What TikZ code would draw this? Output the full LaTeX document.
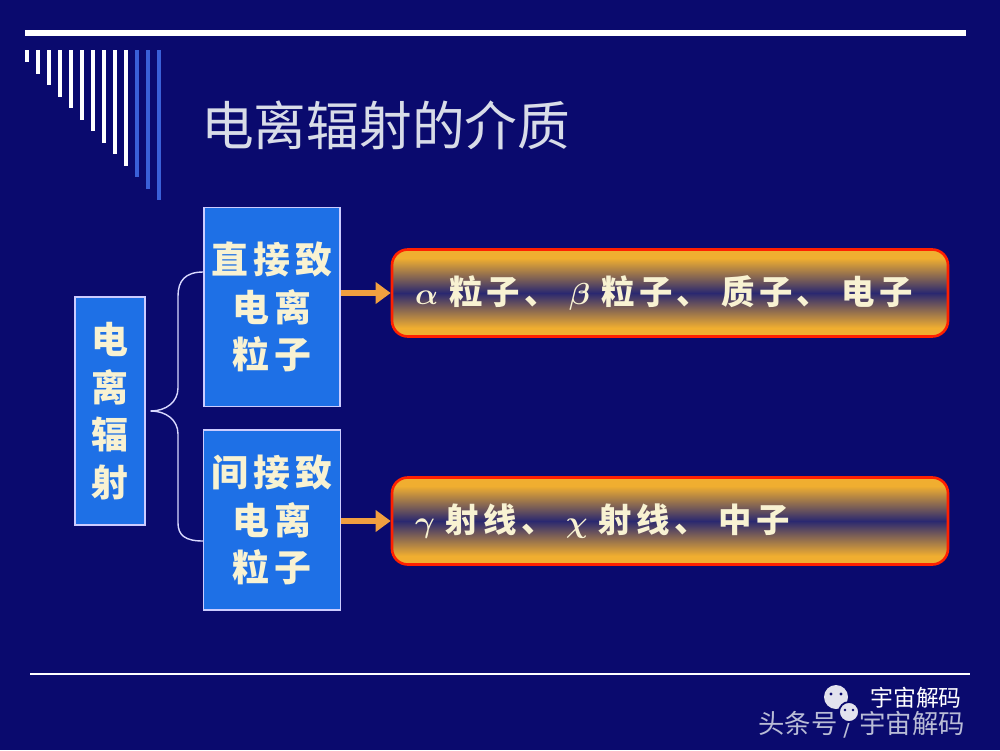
\documentclass[tikz,border=0pt]{standalone}
\usepackage{bm}
\usepackage{fontspec}
\newfontfamily\cjk{Noto Sans CJK SC}
\newfontfamily\cjkwide[LetterSpace=14]{Noto Sans CJK SC}
\newfontfamily\cjkbar[LetterSpace=13]{Noto Sans CJK SC}
\usetikzlibrary{arrows.meta,calc,positioning}
\definecolor{slidebg}{HTML}{0A0A6E}
\definecolor{boxblue}{HTML}{1E70E6}
\definecolor{barorange}{HTML}{F0AE30}
\definecolor{barnavy}{HTML}{2A2870}
\definecolor{arroworange}{HTML}{F0A040}
\definecolor{cream}{HTML}{F8F2D2}
\definecolor{stripeblue}{HTML}{3A60D8}
\definecolor{titlegray}{HTML}{D8DCE8}
\pgfdeclareverticalshading{barshade}{100bp}{color(0bp)=(barorange); color(30bp)=(barorange); color(50bp)=(barnavy); color(70bp)=(barorange); color(100bp)=(barorange)}
\tikzset{
  kind/.style={draw=blue!20!white, line width=0.8pt, fill=boxblue, text=cream,
    font=\cjkwide\bfseries\fontsize{21}{27}\selectfont, align=center, inner sep=0pt},
  medium/.style={shade, shading=barshade, draw=red!75!orange, line width=1.5pt,
    rounded corners=9pt, minimum height=1.74cm, text width=10.2cm, inner xsep=0.46cm,
    align=left, text=cream, font=\cjkbar\bfseries\fontsize{19}{24}\selectfont},
  feed/.style={arroworange, line width=1.3mm, -{Triangle[length=3mm,width=4.2mm]}},
  brace/.style={white!85!blue, line width=0.8pt},
  footmark/.style={text=titlegray!85!slidebg, font=\cjk\fontsize{15}{18}\selectfont, inner sep=0pt},
}

\begin{document}
\begin{tikzpicture}[x=0.2mm,y=-0.2mm]
    \fill[slidebg] (0,0) rectangle (1000,750);
    % title rule and stripes
    \fill[white] (25,30) rectangle (966,36);
    \foreach \i in {0,...,12} {
      \pgfmathsetmacro{\xx}{27+11*\i}
      \pgfmathsetmacro{\yy}{62+11.5*\i}
      \ifnum\i<10 \def\stripecol{white}\else \def\stripecol{stripeblue}\fi
      \fill[\stripecol] (\xx-2,50) rectangle (\xx+2,\yy);
    }
    \node[text=titlegray, font=\cjk\fontsize{30}{36}\selectfont, anchor=west] (title) at (195,125) {电离辐射的介质};

    \node[kind, minimum width=1.4cm, minimum height=4.56cm] (ionrad) at (110,411) {电\\离\\辐\\射};
    \node[kind, minimum width=2.72cm, minimum height=3.98cm] (direct) at (272,307) {直接致\\电离\\粒子};
    \node[kind, minimum width=2.74cm, minimum height=3.6cm] (indirect) at (272,520) {间接致\\电离\\粒子};
    \node[medium, minimum width=11.12cm] (charged) at (670,293) {$\bm\alpha$ 粒子、 $\bm\beta$ 粒子、 质子、 电子};
    \node[medium, minimum width=11.12cm] (neutral) at (670,521) {$\bm\gamma$ 射线、 $\bm\chi$ 射线、 中子};

    \coordinate (bt) at ($(direct.west)+(0,-35)$);
    \coordinate (bb) at ($(indirect.west)+(0,21)$);
    \draw[brace] ($(ionrad.east)+(5,0)$) .. controls (166,411) and (178,402) .. (178,388) -- (178,296) .. controls (178,281) and (185,272) .. (bt);
    \draw[brace] ($(ionrad.east)+(5,0)$) .. controls (166,411) and (178,420) .. (178,434) -- (178,523) .. controls (178,535) and (185,541) .. (bb);

    \draw[feed] (direct.east |- charged.west) -- (charged.west);
    \draw[feed] (indirect.east |- neutral.west) -- (neutral.west);

    % footer
    \draw[white, line width=0.45mm] (30,674) -- (970,674);
    \node[footmark, anchor=west] (source) at (758,725) {头条号 / 宇宙解码};
    \fill[white!88!slidebg] (836,697) circle (12);
    \fill[slidebg] (831,694) circle (1.6) (841,694) circle (1.6);
    \draw[slidebg, line width=1pt, fill=white!88!slidebg] (849,712) circle (10);
    \fill[slidebg] (845,710) circle (1.3) (853,710) circle (1.3);
    \node[text=white, font=\cjk\fontsize{13}{15}\selectfont, anchor=west, inner sep=0pt] (account) at (870,698) {宇宙解码};
\end{tikzpicture}
\end{document}
